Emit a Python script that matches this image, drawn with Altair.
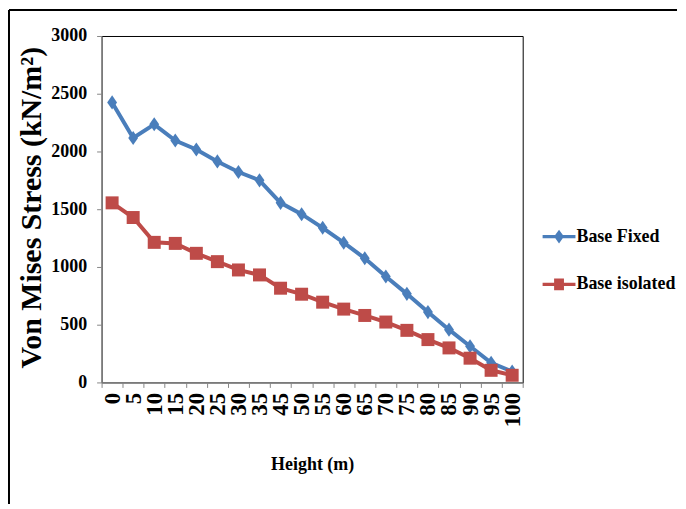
import altair as alt
import pandas as pd

heights = ["0", "5", "10", "15", "20", "25", "30", "35", "45", "50",
           "55", "60", "65", "70", "75", "80", "85", "90", "95", "100"]
base_fixed = [2425, 2117, 2235, 2095, 2017, 1914, 1822, 1750, 1555, 1457,
              1339, 1210, 1075, 917, 767, 609, 457, 313, 170, 95]
base_isolated = [1555, 1428, 1213, 1204, 1118, 1046, 974, 931, 816, 764,
                 695, 635, 580, 523, 451, 371, 299, 210, 105, 62]
series_names = ["Base Fixed", "Base isolated"]
series_colors = ["#4a7ebb", "#be4b48"]
y_ticks = [0, 500, 1000, 1500, 2000, 2500, 3000]

rows = []
for h, f, i in zip(heights, base_fixed, base_isolated):
    rows.append({"height": h, "value": f, "series": series_names[0]})
    rows.append({"height": h, "value": i, "series": series_names[1]})
df = pd.DataFrame(rows)

FONT = "Liberation Serif"
GRAY = "#868686"

diamond_path = "M0,-1L0.7,0L0,1L-0.7,0Z"
legend_fixed = "M-1,-0.1L1,-0.1L1,0.1L-1,0.1Z M0,-0.42L0.3,0L0,0.42L-0.3,0Z"
legend_iso = "M-1,-0.1L1,-0.1L1,0.1L-1,0.1Z M-0.3,-0.36L0.3,-0.36L0.3,0.36L-0.3,0.36Z"

x_enc = alt.X(
    "height:O", sort=heights, bandPosition=0.5,
    scale=alt.Scale(type="band", paddingInner=0, paddingOuter=0),
    axis=alt.Axis(
        title="Height (m)", labelAngle=-90, labelFont=FONT, labelFontSize=23,
        labelFontWeight="bold", labelColor="black", labelOverlap=False,
        labelPadding=5, tickBand="extent", tickSize=5, tickColor=GRAY,
        domainColor=GRAY, titleFont=FONT, titleFontSize=18,
        titleFontWeight="bold", titleColor="black", titleY=82,
        titleBaseline="middle",
    ),
)
y_enc = alt.Y(
    "value:Q", scale=alt.Scale(domain=[0, 3000]),
    axis=alt.Axis(
        values=y_ticks, format="d", grid=False, title="Von Mises Stress (kN/m²)",
        labelFont=FONT, labelFontSize=18, labelFontWeight="bold",
        labelColor="black", labelPadding=10, tickSize=5, tickColor=GRAY,
        domainColor=GRAY, titleFont=FONT, titleFontSize=30,
        titleFontWeight="bold", titleColor="black", titleX=-55, titleY=172,
        titleAngle=-90, titleAlign="center", titleBaseline="bottom",
    ),
)

base = alt.Chart(df)
layers = []
for name, color in zip(series_names, series_colors):
    layers.append(
        base.transform_filter(alt.datum.series == name)
        .mark_line(color=color, strokeWidth=4)
        .encode(x=x_enc, y=y_enc)
    )
for name, color, shp, sz in zip(series_names, series_colors,
                                [diamond_path, "square"], [200, 170]):
    layers.append(
        base.transform_filter(alt.datum.series == name)
        .mark_point(color=color, shape=shp, size=sz, filled=True, opacity=1)
        .encode(x=x_enc, y=y_enc)
    )

leg = alt.Legend(
    orient="none", legendX=443, legendY=185, title=None, labelFont=FONT,
    labelFontSize=18, labelFontWeight="bold", labelColor="black",
    symbolSize=1089, symbolStrokeWidth=0, rowPadding=22, labelOffset=1,
    padding=0,
)
legend_layer = (
    base.transform_filter("false")
    .mark_point(filled=True, opacity=1)
    .encode(
        x=x_enc, y=y_enc,
        color=alt.Color("series:N", scale=alt.Scale(domain=series_names,
                                                     range=series_colors),
                        legend=leg),
        shape=alt.Shape("series:N", scale=alt.Scale(domain=series_names,
                                                     range=[legend_fixed, legend_iso]),
                        legend=leg),
    )
)
layers.append(legend_layer)

frame_df = pd.DataFrame({"k": [0]})
left_line = alt.Chart(frame_df).mark_rule(color="black", strokeWidth=2).encode(
    x=alt.value(-93), y=alt.value(-26), y2=alt.value(470))
top_line = alt.Chart(frame_df).mark_rule(color="black", strokeWidth=2).encode(
    x=alt.value(-93), x2=alt.value(578), y=alt.value(-26))
layers += [left_line, top_line]

chart = (
    alt.layer(*layers)
    .properties(width=423, height=348, padding=0)
    .configure_view(stroke="black", strokeWidth=1)
)

chart.save("out.html", embed_options={"renderer": "svg", "actions": False})
